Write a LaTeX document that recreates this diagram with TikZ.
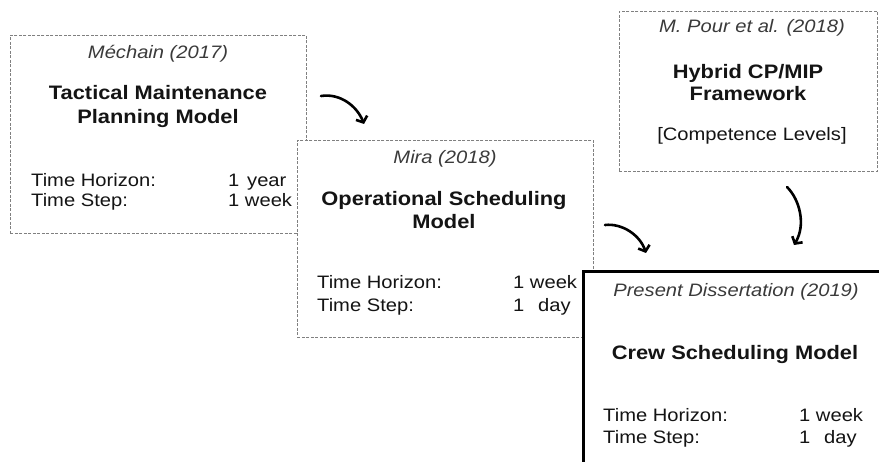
\documentclass[tikz,border=0pt]{standalone}
\usepackage{fontspec}
\setmainfont{Liberation Sans}[FakeStretch=1.12]
\usetikzlibrary{arrows.meta}
\definecolor{dashgray}{HTML}{808080}
\definecolor{ititle}{HTML}{3A3A3A}
\definecolor{txt}{HTML}{141414}
\tikzset{
  dbox/.style={draw=dashgray, line width=0.8pt, dash pattern=on 3pt off 1.5pt, fill=white, inner sep=0pt, anchor=north west},
  cbox/.style={draw=black, line width=3pt, fill=white, inner sep=0pt, anchor=north west},
  itl/.style={font=\fontsize{18}{20}\selectfont\itshape, text=ititle, inner sep=0pt, anchor=base},
  ttl/.style={font=\fontsize{19.5}{23}\selectfont\bfseries, text=txt, inner sep=0pt, anchor=base},
  lbl/.style={font=\fontsize{18}{20}\selectfont, text=txt, inner sep=0pt, anchor=base west},
  ctr/.style={font=\fontsize{18}{20}\selectfont, text=txt, inner sep=0pt, anchor=base},
  arr/.style={line width=2.6pt, line cap=round, -{Straight Barb[length=5pt,width=12pt]}}
}
\begin{document}
\begin{tikzpicture}[x=1pt,y=-1pt]
\useasboundingbox (0,0) rectangle (879,462);
\clip (0,0) rectangle (879,462);
% Box 1
\node[dbox, minimum width=296pt, minimum height=198pt] (b1) at (10,35) {};
\node[itl] (t1) at (158,59) {Méchain (2017)};
\node[ttl] (m1a) at (158,100) {Tactical Maintenance};
\node[ttl] (m1b) at (158,124) {Planning Model};
\node[lbl] (h1) at (31,187) {Time Horizon:};
\node[lbl] (s1) at (31,207) {Time Step:};
\node[lbl] (h1v) at (228,187) {1\hspace{7.8pt}year};
\node[lbl] (s1v) at (228,207) {1 week};
% Box 2
\node[dbox, minimum width=296pt, minimum height=197pt] (b2) at (297,140) {};
\node[itl] (t2) at (445,164) {Mira (2018)};
\node[ttl] (m2a) at (444,206) {Operational Scheduling};
\node[ttl] (m2b) at (444,229) {Model};
\node[lbl] (h2) at (317,289) {Time Horizon:};
\node[lbl] (s2) at (317,312) {Time Step:};
\node[lbl] (h2v) at (513,289) {1 week};
\node[lbl] (s2v) at (513,312) {1\hspace{13.8pt}day};
% Box 3
\node[dbox, minimum width=258pt, minimum height=160pt] (b3) at (619,11) {};
\node[itl] (t3) at (752,33) {M. Pour et al. (2018)};
\node[ttl] (m3a) at (748,79) {Hybrid CP/MIP};
\node[ttl] (m3b) at (748,101) {Framework};
\node[ctr] (c3) at (752,141) {[Competence Levels]};
% Box 4
\node[cbox, minimum width=308pt, minimum height=210pt] (b4) at (582,270) {};
\node[itl] (t4) at (736,297) {Present Dissertation (2019)};
\node[ttl] (m4) at (735,360) {Crew Scheduling Model};
\node[lbl] (h4) at (603,422) {Time Horizon:};
\node[lbl] (s4) at (603,443) {Time Step:};
\node[lbl] (h4v) at (799,422) {1 week};
\node[lbl] (s4v) at (799,443) {1\hspace{13.8pt}day};
% Arrows
\coordinate (a1s) at (321,96);
\coordinate (a1e) at (364,124);
\coordinate (a2s) at (605,225);
\coordinate (a2e) at (646,253);
\coordinate (a3s) at (787,187);
\coordinate (a3e) at (794,245);
\draw[arr] (a1s) .. controls (340,93) and (357,106) .. (a1e);
\draw[arr] (a2s) .. controls (622,223) and (640,235) .. (a2e);
\draw[arr] (a3s) .. controls (800,200) and (806,225) .. (a3e);
\end{tikzpicture}
\end{document}
